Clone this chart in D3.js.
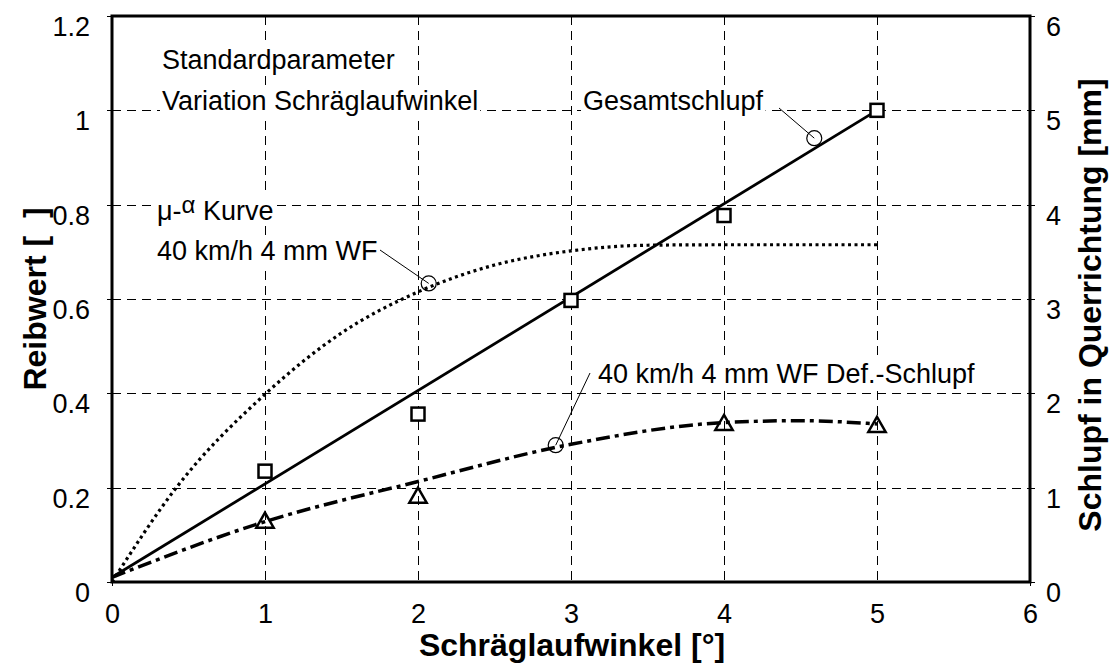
<!DOCTYPE html>
<html>
<head>
<meta charset="utf-8">
<script src="https://cdn.jsdelivr.net/npm/d3@7"></script>
<style>
  body { margin: 0; background: #fff; }
  text { font-family: "Liberation Sans", Arial, Helvetica, sans-serif; fill: #000; }
</style>
</head>
<body>
<div id="chart"></div>
<script>
// tick values
var xTicks = [0, 1, 2, 3, 4, 5, 6],
    yLeftTicks = [0, 0.2, 0.4, 0.6, 0.8, 1, 1.2],
    yRightTicks = [0, 1, 2, 3, 4, 5, 6];

// Gesamtschlupf [mm] (squares) and its straight fit
var gesamtAngle = [1, 2, 3, 4, 5],
    gesamtSchlupf = [1.175, 1.78, 2.985, 3.885, 5.0],
    gesamtFitAngle = [0, 5],
    gesamtFit = [0.05, 5.0];

// Def.-Schlupf [mm] (triangles) and its fitted curve
var defAngle = [1, 2, 4, 5],
    defSchlupf = [0.64, 0.905, 1.675, 1.655],
    defFitAngle = [0, 1, 2, 3, 4, 4.5, 5],
    defFit = [0.05, 0.64, 1.065, 1.46, 1.69, 1.71, 1.675];

// mu-alpha curve (Reibwert)
var muAngle = [0, 0.42, 1, 1.5, 2, 2.5, 3, 3.5, 4, 5],
    muValue = [0, 0.2, 0.398, 0.528, 0.615, 0.672, 0.702, 0.714, 0.715, 0.715];

var W = 1113, H = 663,
    pLeft = 112, pTop = 16, pRight = 1030, pBottom = 582,
    fontSize = 27,
    titleSize = 32;

var svg = d3.select("#chart").append("svg")
    .attr("width", W)
    .attr("height", H);

var x = d3.scaleLinear().domain([0, 6]).range([pLeft, pRight]);
var yL = d3.scaleLinear().domain([0, 1.2]).range([pBottom, pTop]);
var yR = d3.scaleLinear().domain([0, 6]).range([pBottom, pTop]);

// grid
var grid = svg.append("g")
    .attr("stroke", "#000")
    .attr("stroke-width", 1)
    .attr("shape-rendering", "crispEdges")
    .attr("stroke-dasharray", "9,6");
grid.selectAll("line.v")
  .data(xTicks.slice(1, -1))
  .enter().append("line")
    .attr("x1", function(d) { return Math.round(x(d)) + 0.5; })
    .attr("x2", function(d) { return Math.round(x(d)) + 0.5; })
    .attr("y1", pTop)
    .attr("y2", pBottom);
grid.selectAll("line.h")
  .data(yLeftTicks.slice(1, -1))
  .enter().append("line")
    .attr("x1", pLeft)
    .attr("x2", pRight)
    .attr("y1", function(d) { return Math.round(yL(d)) + 0.5; })
    .attr("y2", function(d) { return Math.round(yL(d)) + 0.5; });

// axes (labels hang below the tick like in the original)
var xAxis = svg.append("g")
    .attr("transform", "translate(0," + pBottom + ")")
    .call(d3.axisBottom(x).tickValues(xTicks).tickSize(4).tickPadding(18).tickFormat(d3.format("d")));
var yAxisL = svg.append("g")
    .attr("transform", "translate(" + pLeft + ",0)")
    .call(d3.axisLeft(yL).tickValues(yLeftTicks).tickSize(5).tickPadding(17).tickFormat(function(d) { return String(+d.toFixed(1)); }));
var yAxisR = svg.append("g")
    .attr("transform", "translate(" + pRight + ",0)")
    .call(d3.axisRight(yR).tickValues(yRightTicks).tickSize(5).tickPadding(11).tickFormat(d3.format("d")));

[xAxis, yAxisL, yAxisR].forEach(function(a) {
  a.select(".domain").remove();
  a.selectAll("text")
    .style("font-size", fontSize + "px")
    .attr("font-family", null)
    .attr("dy", "0.72em");
  a.selectAll("line").attr("stroke", "#000").attr("shape-rendering", "crispEdges");
});
// only the end ticks of the x axis stick out below
xAxis.selectAll(".tick line")
    .attr("y2", function(d) { return (d === 0 || d === 6) ? 4 : 0; });

// text boxes in the plot have a white background
function label(tx, ty, str) {
  var g = svg.append("g");
  var bg = g.append("rect").attr("fill", "#fff");
  var t = g.append("text")
    .attr("x", tx)
    .attr("y", ty)
    .style("font-size", fontSize + "px")
    .text(str);
  return { g: g, bg: bg, t: t };
}
function fitBg(l) {
  var b = l.t.node().getBBox();
  l.bg.attr("x", b.x - 2).attr("y", b.y).attr("width", b.width + 4).attr("height", b.height);
}

var l1 = label(162, 69, "Standardparameter"),
    l2 = label(162, 110, "Variation Schräglaufwinkel"),
    l3 = label(583, 110, "Gesamtschlupf"),
    l4 = label(598, 383, "40 km/h 4 mm WF Def.-Schlupf"),
    l5 = label(157, 260, "40 km/h 4 mm WF"),
    l6 = label(157, 220, "μ-");
l6.t.append("tspan").attr("dy", -7).style("font-size", "24px").text("α");
l6.t.append("tspan").attr("dy", 7).text(" Kurve");
[l1, l2, l3, l4, l5, l6].forEach(fitBg);

// frame
svg.append("rect")
    .attr("x", pLeft)
    .attr("y", pTop)
    .attr("width", pRight - pLeft)
    .attr("height", pBottom - pTop)
    .attr("fill", "none")
    .attr("stroke", "#000")
    .attr("stroke-width", 3);

// mu-alpha dotted curve
var muLine = d3.line()
    .x(function(d, i) { return x(muAngle[i]); })
    .y(function(d) { return yL(d); })
    .curve(d3.curveMonotoneX);
svg.append("path")
    .datum(muValue)
    .attr("d", muLine)
    .attr("fill", "none")
    .attr("stroke", "#000")
    .attr("stroke-width", 3.2)
    .attr("stroke-dasharray", "3,3.5");

// Gesamtschlupf fit
var gLine = d3.line()
    .x(function(d, i) { return x(gesamtFitAngle[i]); })
    .y(function(d) { return yR(d); });
svg.append("path")
    .datum(gesamtFit)
    .attr("d", gLine)
    .attr("fill", "none")
    .attr("stroke", "#000")
    .attr("stroke-width", 2.8);

// Def.-Schlupf fit
var dLine = d3.line()
    .x(function(d, i) { return x(defFitAngle[i]); })
    .y(function(d) { return yR(d); })
    .curve(d3.curveMonotoneX);
svg.append("path")
    .datum(defFit)
    .attr("d", dLine)
    .attr("fill", "none")
    .attr("stroke", "#000")
    .attr("stroke-width", 3.5)
    .attr("stroke-dasharray", "14,5,4,5");

// squares
svg.selectAll("rect.sq")
  .data(gesamtSchlupf)
  .enter().append("rect")
    .attr("class", "sq")
    .attr("x", function(d, i) { return x(gesamtAngle[i]) - 6.5; })
    .attr("y", function(d) { return yR(d) - 6.5; })
    .attr("width", 13)
    .attr("height", 13)
    .attr("fill", "#fff")
    .attr("stroke", "#000")
    .attr("stroke-width", 2.5);

// triangles
var tri = d3.symbol().type(d3.symbolTriangle).size(130);
svg.selectAll("path.tri")
  .data(defSchlupf)
  .enter().append("path")
    .attr("class", "tri")
    .attr("d", tri)
    .attr("transform", function(d, i) { return "translate(" + x(defAngle[i]) + "," + (yR(d) + 1) + ")"; })
    .attr("fill", "none")
    .attr("stroke", "#000")
    .attr("stroke-width", 2.5);

// annotation circles with leader lines: angle, value on left axis, leader start
var notes = [
  { a: 2.07, v: 0.633, lx: 380, ly: 250 },
  { a: 4.59, v: 0.941, lx: 779, ly: 108 },
  { a: 2.9, v: 0.29, lx: 590, ly: 373 }
];
svg.selectAll("line.lead")
  .data(notes)
  .enter().append("line")
    .attr("x1", function(d) { return d.lx; })
    .attr("y1", function(d) { return d.ly; })
    .attr("x2", function(d) { return x(d.a); })
    .attr("y2", function(d) { return yL(d.v); })
    .attr("stroke", "#000")
    .attr("stroke-width", 1);
svg.selectAll("circle.note")
  .data(notes)
  .enter().append("circle")
    .attr("cx", function(d) { return x(d.a); })
    .attr("cy", function(d) { return yL(d.v); })
    .attr("r", 7.5)
    .attr("fill", "none")
    .attr("stroke", "#000")
    .attr("stroke-width", 1.2);

// axis titles
svg.append("text")
    .attr("x", 572)
    .attr("y", 656)
    .attr("text-anchor", "middle")
    .style("font-size", titleSize + "px")
    .style("font-weight", "bold")
    .text("Schräglaufwinkel [°]");
svg.append("text")
    .attr("transform", "translate(46,299) rotate(-90)")
    .attr("text-anchor", "middle")
    .style("font-size", titleSize + "px")
    .style("font-weight", "bold")
    .style("white-space", "pre")
    .text("Reibwert [\u00a0\u00a0]");
svg.append("text")
    .attr("transform", "translate(1101,305) rotate(-90)")
    .attr("text-anchor", "middle")
    .style("font-size", titleSize + "px")
    .style("font-weight", "bold")
    .text("Schlupf in Querrichtung [mm]");
</script>
</body>
</html>
